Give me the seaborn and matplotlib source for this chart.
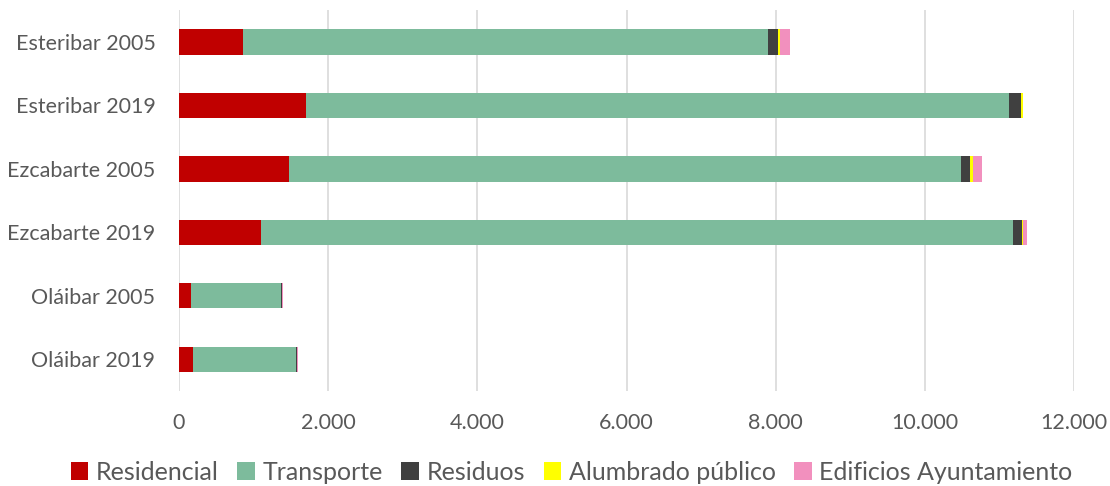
import matplotlib
matplotlib.use("Agg")
import matplotlib.pyplot as plt
import seaborn as sns
import pandas as pd
import numpy as np
from matplotlib.ticker import FuncFormatter
from matplotlib.patches import Patch

# ── Data ──────────────────────────────────────────────────────
categorias = ["Esteribar 2005", "Esteribar 2019", "Ezcabarte 2005",
              "Ezcabarte 2019", "Oláibar 2005", "Oláibar 2019"]
residencial = [852, 1697, 1469, 1093, 163, 181]
transporte  = [7045, 9429, 9017, 10086, 1198, 1382]
residuos    = [130, 161, 117, 121, 14, 22]
alumbrado   = [36, 27, 36, 15, 12, 2]
edificios   = [125, 5, 121, 52, 10, 2]

series = ["Residencial", "Transporte", "Residuos", "Alumbrado público",
          "Edificios Ayuntamiento"]
colores = ["#C00000", "#7DBB9C", "#404040", "#FFFF00", "#F290BE"]

df = pd.DataFrame({
    "cat": categorias,
    "Residencial": residencial,
    "Transporte": transporte,
    "Residuos": residuos,
    "Alumbrado público": alumbrado,
    "Edificios Ayuntamiento": edificios,
})
cum = df[series].cumsum(axis=1)
cum["cat"] = df["cat"]

# ── Plot ──────────────────────────────────────────────────────
sns.set_style("white")
plt.rcParams["font.family"] = ["Lato", "DejaVu Sans"]

fig = plt.figure(figsize=(11.1, 4.86), dpi=100)
ax = fig.add_axes([0.1613, 0.1955, 0.8063, 0.7835])

# draw widest cumulative first so the shorter ones sit on top
for s, c in reversed(list(zip(series, colores))):
    sns.barplot(data=cum, x=s, y="cat", order=categorias, color=c,
                width=0.4, orient="h", ax=ax, saturation=1,
                edgecolor="none", linewidth=0)

ax.set_xlim(0, 12000)
ax.set_xticks(np.arange(0, 12001, 2000))
ax.xaxis.set_major_formatter(FuncFormatter(lambda v, p: f"{int(v):,}".replace(",", ".")))
ax.grid(axis="x", color="#D9D9D9", linewidth=1.2)
ax.set_axisbelow(True)
for sp in ax.spines.values():
    sp.set_visible(False)
ax.set_xlabel("")
ax.set_ylabel("")
ax.tick_params(axis="both", length=0, labelsize=15.5, labelcolor="#595959")
ax.tick_params(axis="x", pad=16)
ax.tick_params(axis="y", pad=17)

handles = [Patch(facecolor=c, edgecolor="none") for c in colores]
fig.legend(handles, series, loc="center", bbox_to_anchor=(0.515, 0.028), ncol=5,
           frameon=False, fontsize=18, handlelength=0.7, handleheight=0.7,
           handletextpad=0.3, columnspacing=0.75, labelcolor="#595959")

fig.savefig("out.png", dpi=100)
